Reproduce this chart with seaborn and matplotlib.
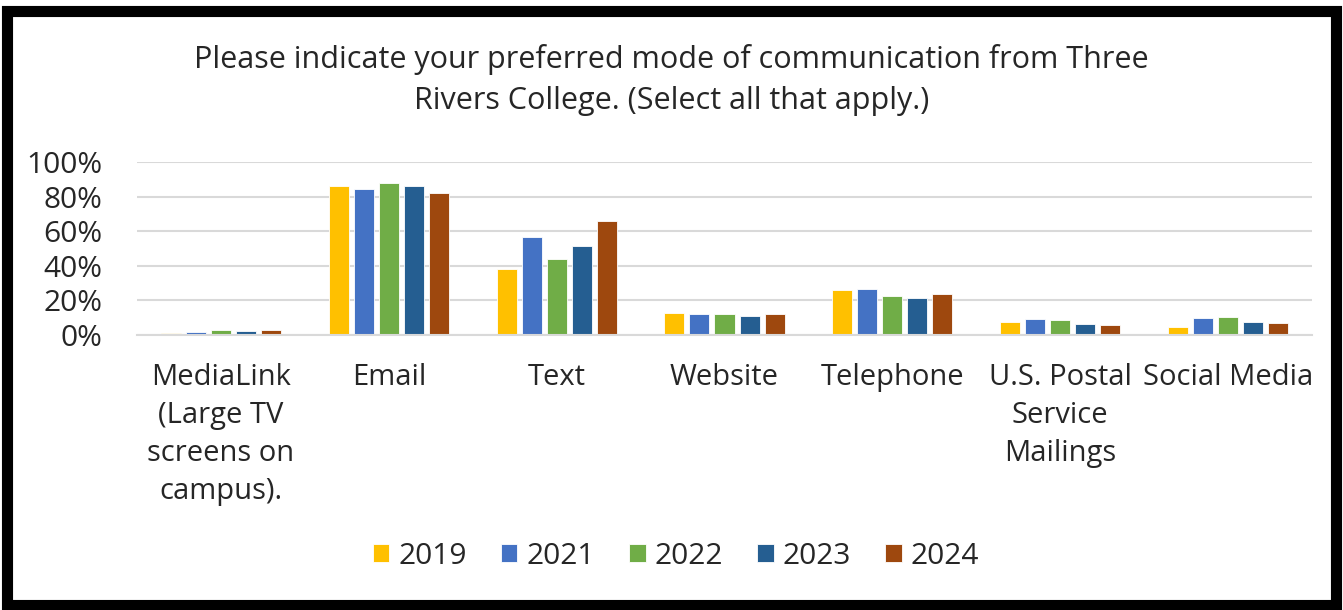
import pandas as pd
import matplotlib.pyplot as plt
import seaborn as sns
from matplotlib.patches import Rectangle
from matplotlib.ticker import PercentFormatter

# Survey responses (share of respondents)
categories = ["MediaLink\n(Large TV\nscreens on\ncampus).", "Email", "Text", "Website",
              "Telephone", "U.S. Postal\nService\nMailings", "Social Media"]
years = ["2019", "2021", "2022", "2023", "2024"]
v2019 = [0.009, 0.861, 0.380, 0.128, 0.263, 0.073, 0.046]
v2021 = [0.015, 0.846, 0.564, 0.119, 0.268, 0.094, 0.096]
v2022 = [0.029, 0.879, 0.441, 0.123, 0.226, 0.088, 0.105]
v2023 = [0.023, 0.860, 0.514, 0.111, 0.213, 0.065, 0.073]
v2024 = [0.030, 0.819, 0.660, 0.119, 0.238, 0.059, 0.069]
colors = ["#FFC000", "#4472C4", "#70AD47", "#255E91", "#9E480E"]

rows = []
for yr, vals in zip(years, [v2019, v2021, v2022, v2023, v2024]):
    for cat, v in zip(categories, vals):
        rows.append({"Mode": cat, "Year": yr, "Share": v})
df = pd.DataFrame(rows)

sns.set_style("white")
plt.rcParams['font.family'] = ['Open Sans', 'DejaVu Sans']

W, H = 1343, 610
fig = plt.figure(figsize=(W / 100, H / 100), dpi=100)
ax = fig.add_axes([137 / W, 1 - 335 / H, (1312 - 137) / W, (335 - 162) / H])

sns.barplot(data=df, x="Mode", y="Share", hue="Year", palette=colors, saturation=1,
            width=0.745, gap=0.2, edgecolor="white", linewidth=0.6, ax=ax)

ax.set_ylim(0, 1)
ax.set_yticks([0, 0.2, 0.4, 0.6, 0.8, 1.0])
ax.yaxis.set_major_formatter(PercentFormatter(1.0, decimals=0))
ax.grid(axis="y", color="#d9d9d9", linewidth=1.5)
ax.set_axisbelow(True)
for side in ["top", "right", "left"]:
    ax.spines[side].set_visible(False)
ax.spines["bottom"].set_color("#d9d9d9")
ax.spines["bottom"].set_linewidth(1.5)
ax.tick_params(axis="y", length=0, pad=25, labelsize=21.5)
ax.tick_params(axis="x", length=0, pad=20, labelsize=21)
for lbl in ax.get_xticklabels():
    lbl.set_linespacing(1.42)
ax.set_xlabel("")
ax.set_ylabel("")

handles, labels = ax.get_legend_handles_labels()
ax.get_legend().remove()
fig.legend(handles, labels, loc="center", bbox_to_anchor=(676 / W, 1 - 556 / H),
           bbox_transform=fig.transFigure, ncol=5, frameon=False,
           fontsize=21.5, handlelength=0.55, handleheight=0.55, handletextpad=0.3,
           columnspacing=1.15)

fig.text(0.5, 1 - 80 / H, "Please indicate your preferred mode of communication from Three\n"
         "Rivers College. (Select all that apply.)", ha="center", va="center",
         fontsize=22, linespacing=1.45)

# black frame around the whole chart
fig.add_artist(Rectangle((7 / W, 5 / H), (W - 14) / W, (H - 16) / H,
                         transform=fig.transFigure, fill=False,
                         edgecolor="black", linewidth=8))

fig.savefig("out.png", dpi=100)
